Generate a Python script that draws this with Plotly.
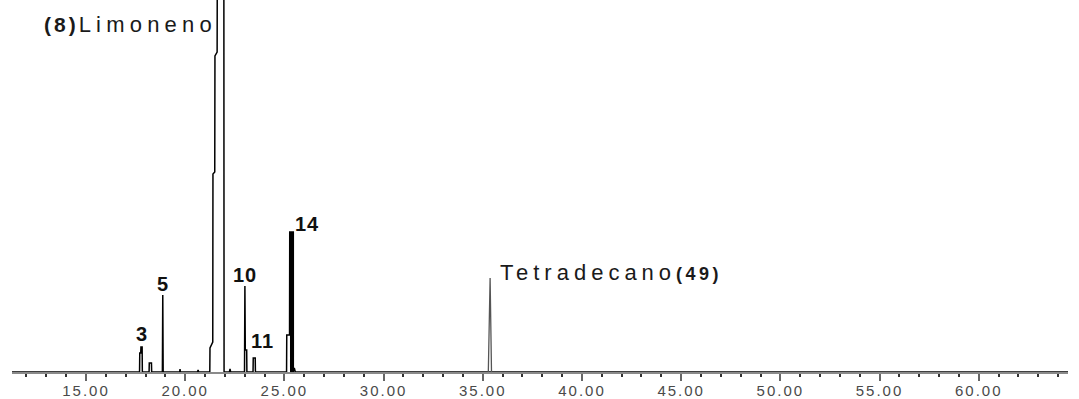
import plotly.graph_objects as go

# ---- data (digitized chromatogram, retention time in min, abundance in arbitrary units) ----
rt = [11.27,
      17.70, 17.71, 17.76, 17.77, 17.83, 17.84,
      18.18, 18.19, 18.30, 18.31,
      18.85, 18.87, 18.89,
      19.72, 19.74, 19.76,
      20.62, 20.65, 20.68,
      21.24, 21.25, 21.39, 21.40, 21.49, 21.50, 21.61, 21.62, 21.80, 21.96,
      22.23, 22.26, 22.29,
      22.99, 23.01, 23.03, 23.10, 23.11,
      23.42, 23.43, 23.53, 23.54,
      25.11, 25.12, 25.26, 25.27, 25.32, 25.32, 25.33, 25.33, 25.38, 25.38, 25.39, 25.39,
      25.45, 25.45, 25.50, 25.55,
      64.50]
abundance = [0,
             0, 19, 19, 25, 25, 0,
             0, 9, 9, 0,
             0, 77, 0,
             0, 3, 0,
             0, 2, 0,
             0, 24, 30, 198, 200, 316, 320, 420, 6000, 0,
             0, 3, 0,
             0, 86, 22, 22, 0,
             0, 14, 14, 0,
             0, 37, 37, 140, 140, 0, 0, 140, 140, 0, 0, 140,
             140, 0, 4, 0,
             0]

# internal standard peak (Tetradecano)
std_rt = [35.28, 35.35, 35.37, 35.44]
std_abundance = [0, 94, 94, 0]

# peak labels
peak_labels = ["3", "5", "10", "11", "14"]
peak_label_rt = [17.80, 18.87, 23.01, 23.47, 25.37]
peak_label_height = [25, 77, 86, 14, 140]

limonene_rt = 21.62
std_label = "Tetradecano"
std_number = "(49)"
limonene_label = "Limoneno"
limonene_number = "(8)"

tick_values = [15, 20, 25, 30, 35, 40, 45, 50, 55, 60]

# ---- styling offsets (pixels) ----
label_xshift = [0, 0, 0, 8, 15]
label_yshift = [13, 11, 11, 17, 8]

FONT = "Liberation Sans, Arial, sans-serif"

fig = go.Figure()
fig.add_trace(go.Scatter(x=rt, y=abundance, mode="lines",
                         line=dict(color="#000000", width=1.5),
                         hoverinfo="skip", showlegend=False))
fig.add_trace(go.Scatter(x=std_rt, y=std_abundance, mode="lines",
                         line=dict(color="#555555", width=1.3),
                         hoverinfo="skip", showlegend=False))

for lab, x, h, dx, dy in zip(peak_labels, peak_label_rt, peak_label_height, label_xshift, label_yshift):
    fig.add_annotation(x=x, y=h, xref="x", yref="y",
                       text=f'<span style="letter-spacing:1px"><b>{lab}</b></span>',
                       showarrow=False, xanchor="center", yanchor="middle",
                       xshift=dx, yshift=dy,
                       font=dict(family=FONT, size=20, color="#111111"))

fig.add_annotation(x=std_rt[1], y=std_abundance[1], xref="x", yref="y",
                   text=(f'<span style="letter-spacing:5px">{std_label}</span>'
                         f'<span style="font-size:18px;letter-spacing:3.5px"><b>{std_number}</b></span>'),
                   showarrow=False, xanchor="left", yanchor="middle",
                   xshift=8, yshift=6,
                   font=dict(family=FONT, size=22, color="#1a1a1a"))

fig.add_annotation(x=limonene_rt, y=(372 - 24) / 372, xref="x", yref="paper",
                   text=(f'<span style="font-size:21px;letter-spacing:3px"><b>{limonene_number}</b></span>'
                         f'<span style="letter-spacing:5.2px">{limonene_label}</span>'),
                   showarrow=False, xanchor="right", yanchor="middle",
                   xshift=2,
                   font=dict(family=FONT, size=22, color="#1a1a1a"))

fig.update_layout(
    width=1079, height=399,
    margin=dict(l=12, r=11, t=0, b=27),
    paper_bgcolor="white", plot_bgcolor="white",
    xaxis=dict(range=[11.27, 64.5], showgrid=False, zeroline=False,
               showline=True, linecolor="#8a8a8a", linewidth=2,
               tickvals=tick_values,
               ticktext=[f'<span style="letter-spacing:2px">{v:.2f}</span>' for v in tick_values],
               ticks="outside", ticklen=7, tickwidth=1.5, tickcolor="#666666",
               ticklabelstandoff=-3,
               tickfont=dict(family=FONT, size=15, color="#4a4a4a"),
               minor=dict(dtick=1, tick0=0, ticks="outside", ticklen=3,
                          tickwidth=2, tickcolor="#333333")),
    yaxis=dict(range=[0, 372], visible=False, fixedrange=True),
)

fig.write_html("out.html", config={"displayModeBar": False},
               post_script="document.body.style.margin='0';document.body.style.padding='0';")
